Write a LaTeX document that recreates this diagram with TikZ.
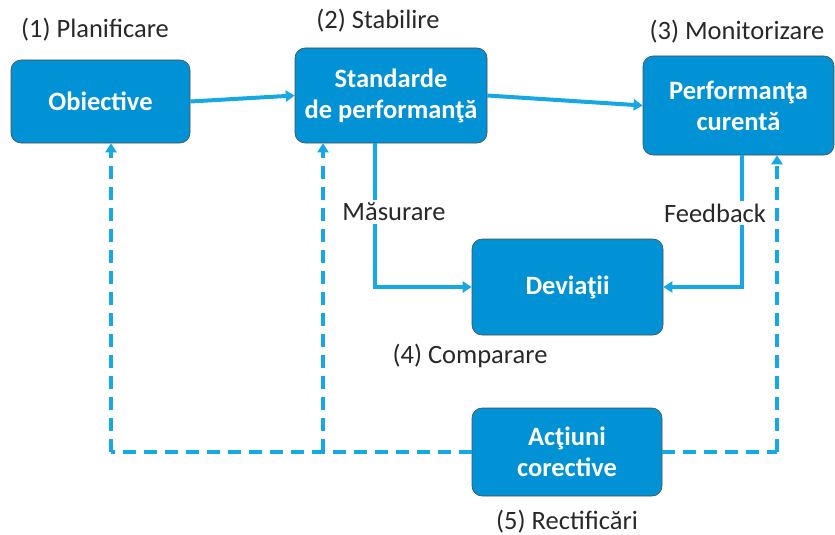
\documentclass[tikz,border=0pt]{standalone}
\usepackage{fontspec}
\setmainfont{Carlito}
\usetikzlibrary{arrows.meta}
\definecolor{boxblue}{RGB}{0,146,212}
\definecolor{lineblue}{RGB}{22,168,228}
\definecolor{txtgray}{RGB}{40,40,40}
\tikzset{
  box/.style={draw=black!70, line width=0.6pt, fill=boxblue, rounded corners=10pt,
    text=white, font=\fontsize{26.5}{31}\selectfont\bfseries, align=center, inner sep=0pt},
  lab/.style={text=txtgray, font=\fontsize{26.5}{31}\selectfont, inner sep=1pt},
  conn/.style={draw=lineblue, line width=4pt, -{Triangle[length=9pt,width=11pt]}},
  dconn/.style={draw=lineblue, line width=4.5pt, dash pattern=on 13pt off 8pt},
  dconnarr/.style={dconn, -{Triangle[length=9pt,width=11pt]}},
}
\begin{document}
\begin{tikzpicture}[x=1pt,y=-1pt]
\useasboundingbox (0,0) rectangle (835,535);
% boxes
\node[box, minimum width=179pt, minimum height=83pt] (obj) at (100.5,101.5) {Obiective};
\node[box, minimum width=192pt, minimum height=95pt] (std) at (391,95.5) {Standarde\\de performanţă};
\node[box, minimum width=191pt, minimum height=99pt] (perf) at (738.5,105.5) {Performanţa\\curentă};
\node[box, minimum width=191pt, minimum height=96pt] (dev) at (567.5,287) {Deviaţii};
\node[box, minimum width=190pt, minimum height=88pt] (act) at (567,452) {Acţiuni\\corective};
% stage labels
\node[lab] (l1) at (95,30) {(1) Planificare};
\node[lab] (l2) at (378,21) {(2) Stabilire};
\node[lab] (l3) at (737,32) {(3) Monitorizare};
\node[lab] (l4) at (470,356) {(4) Comparare};
\node[lab] (l5) at (567,522) {(5) Rectificări};
% solid connectors
\draw[conn] (obj.east) -- (std.west);
\draw[conn] (std.east) -- (perf.west);
\coordinate (mtop) at ([xshift=-16pt]std.south);
\coordinate (ftop) at ([xshift=3.5pt]perf.south);
\draw[conn] (mtop) |- (dev.west);
\draw[conn] (ftop) |- (dev.east);
\node[lab, fill=white, inner sep=3pt] (mas) at (394,212) {Măsurare};
\node[lab, fill=white, inner sep=3pt] (fb) at (715,213) {Feedback};
% dashed feedback loops
\coordinate (dl) at ([xshift=10.5pt]obj.south);
\coordinate (dm) at ([xshift=-68pt]std.south);
\coordinate (dr) at ([xshift=38.5pt]perf.south);
\draw[dconn] (act.west) -- (act.west -| dl);
\draw[dconnarr] (act.west -| dl) -- (dl);
\draw[dconnarr] (act.west -| dm) -- (dm);
\draw[dconn] (act.east) -- (act.east -| dr);
\draw[dconnarr] (act.east -| dr) -- (dr);
\end{tikzpicture}
\end{document}
